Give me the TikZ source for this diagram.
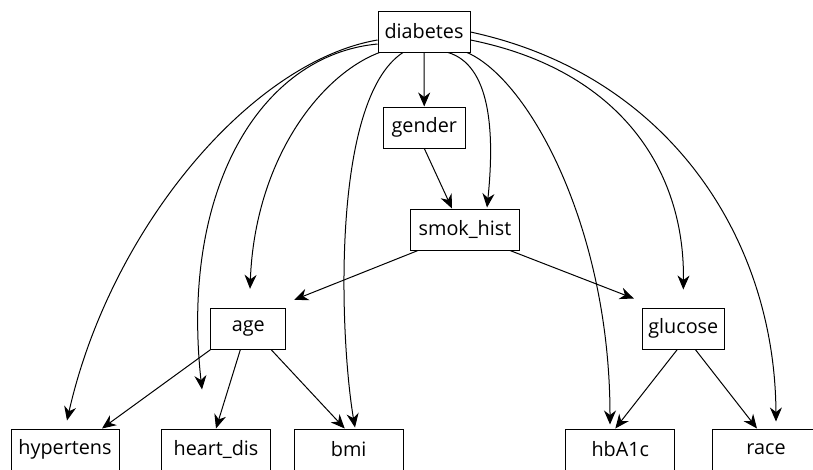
\documentclass[tikz,border=0pt]{standalone}
\usepackage{fontspec}
\setmainfont{Open Sans}
\usetikzlibrary{arrows.meta,calc}
\begin{document}
\begin{tikzpicture}[x=1pt,y=-1pt,
  box/.style={draw, line width=1pt, inner sep=0pt, minimum height=41pt, font=\fontsize{19.8}{22}\selectfont},
  edge/.style={line width=1pt, -{Stealth[length=14pt,width=12pt,inset=4.5pt]}}]
\useasboundingbox (0,0) rectangle (813,469);
\fill[white] (0,0) rectangle (813,469);
\node[box, minimum width=92pt] (diabetes) at (424,31.5) {diabetes};
\node[box, minimum width=82pt] (gender) at (424.3,127.5) {gender};
\node[box, minimum width=109pt] (smok) at (465,229.5) {smok\_hist};
\node[box, minimum width=75pt] (age) at (248.3,328.8) {age};
\node[box, minimum width=82pt] (glucose) at (683.3,328.5) {glucose};
\node[box, minimum width=108pt] (hyp) at (65,449.5) {hypertens};
\node[box, minimum width=108.6pt] (heart) at (216,449.5) {heart\_dis};
\node[box, minimum width=109pt] (bmi) at (348.7,449.5) {bmi};
\node[box, minimum width=108.7pt] (hba) at (620.3,449.5) {hbA1c};
\node[box, minimum width=108pt] (race) at (766,449.5) {race};
% curved edges from diabetes
\draw[edge] ($(diabetes.west)+(0,8.5)$) .. controls (250,62) and (110,230) .. ($(hyp.north)+(2,-8)$);
\draw[edge] ($(diabetes.west)+(0,12.5)$) .. controls (260,55) and (180,190) .. ($(heart.north)+(-14,-39)$);
\draw[edge] ($(diabetes.south west)+(2,0)$) .. controls (320,75) and (255,160) .. ($(age.north)+(1.7,-19)$);
\draw[edge] ($(diabetes.south)+(-21,0)$) .. controls (330,100) and (340,340) .. ($(bmi.north)+(6.3,-1)$);
\draw[edge] ($(diabetes.south)+(24,0)$) .. controls (490,65) and (495,130) .. ($(smok.north)+(22,-1)$);
\draw[edge] ($(diabetes.south)+(43,0)$) .. controls (530,80) and (610,230) .. ($(hba.north)+(-10.3,-4)$);
\draw[edge] ($(diabetes.east)+(0,8.5)$) .. controls (620,70) and (685,170) .. ($(glucose.north)+(0,-18)$);
\draw[edge] ($(diabetes.east)+(0,0.5)$) .. controls (670,75) and (775,240) .. ($(race.north)+(10,-7)$);
% straight edges
\draw[edge] (diabetes) -- (gender);
\draw[edge] (gender.south) -- ($(smok.north)+(-13,0)$);
\draw[edge] ($(smok.south west)+(8,0)$) -- ($(age.north east)+(8,-8)$);
\draw[edge] ($(smok.south east)+(-10,0)$) -- ($(glucose.north west)+(-8,-9)$);
\draw[edge] (age.south west) -- ($(hyp.north)+(37,0)$);
\draw[edge] ($(age.south)+(-8,0)$) -- (heart.north);
\draw[edge] ($(age.south)+(23,0)$) -- ($(bmi.north)+(-4,0)$);
\draw[edge] ($(glucose.south)+(-6,0)$) -- ($(hba.north)+(-5,0)$);
\draw[edge] ($(glucose.south)+(12,0)$) -- ($(race.north)+(-9,0)$);
\end{tikzpicture}
\end{document}
